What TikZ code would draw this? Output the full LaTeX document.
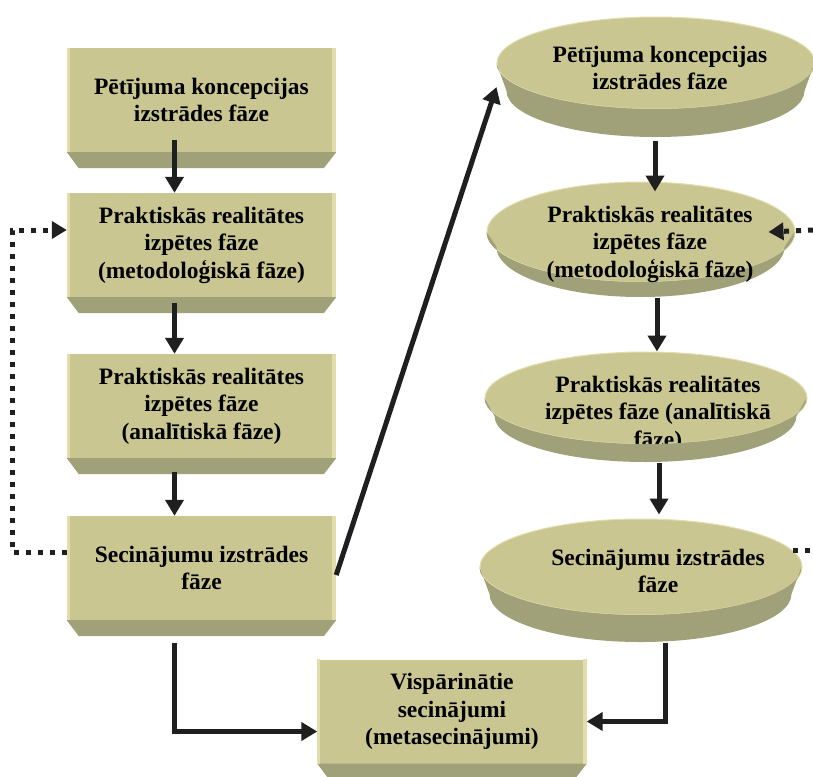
\documentclass[tikz,border=0pt]{standalone}
\usepackage{fontspec}
\setmainfont{Liberation Serif}
\usepackage{tikz}
\usetikzlibrary{arrows.meta,shapes.geometric}

\definecolor{khaki}{RGB}{201,198,146}
\definecolor{khakidark}{RGB}{160,160,121}
\definecolor{khakirim}{RGB}{226,222,172}
\newcommand{\phasefont}{\bfseries\fontsize{23.5}{27.5}\selectfont}

\begin{document}
\begin{tikzpicture}[x=1pt,y=-1pt,
        boxface/.style={fill=khaki,rectangle,minimum width=269pt,minimum height=104pt,
            inner sep=0pt,align=center,font=\phasefont},
        discface/.style={fill=khaki,draw=khakirim,line width=1pt,ellipse,minimum height=92pt,inner sep=0pt},
        disctext/.style={align=center,font=\phasefont},
        bevel/.style={fill=khakidark},
        flow/.style={line width=5pt,draw=black!88,-{Triangle[length=16pt,width=18pt]}},
        dotline/.style={line width=5pt,draw=black!88,dash pattern=on 5pt off 7pt},
        feedback/.style={dotline,-{Triangle[length=15pt,width=17pt]}}
    ]
    \useasboundingbox (0,0) rectangle (813,776);
    %
    % left column
    \node[boxface] (b1) at (201.5,100) {Pētījuma koncepcijas\\izstrādes fāze};
    \fill[bevel] (b1.south west) -- ++(12,16) -- ++(245,0) -- (b1.south east) -- cycle;
    \fill[khakirim] (b1.north west) rectangle ([xshift=3pt]b1.south west);
    \fill[khakirim] ([xshift=-4pt]b1.north east) rectangle (b1.south east);
    %
    \node[boxface] (b2) at (201.5,245) {Praktiskās realitātes\\izpētes fāze\\(metodoloģiskā fāze)};
    \fill[bevel] (b2.south west) -- ++(12,16) -- ++(245,0) -- (b2.south east) -- cycle;
    \fill[khakirim] (b2.north west) rectangle ([xshift=3pt]b2.south west);
    \fill[khakirim] ([xshift=-4pt]b2.north east) rectangle (b2.south east);
    %
    \node[boxface] (b3) at (201.5,406) {Praktiskās realitātes\\izpētes fāze\\(analītiskā fāze)};
    \fill[bevel] (b3.south west) -- ++(12,16) -- ++(245,0) -- (b3.south east) -- cycle;
    \fill[khakirim] (b3.north west) rectangle ([xshift=3pt]b3.south west);
    \fill[khakirim] ([xshift=-4pt]b3.north east) rectangle (b3.south east);
    %
    \node[boxface] (b4) at (201.5,568) {Secinājumu izstrādes\\fāze};
    \fill[bevel] (b4.south west) -- ++(12,16) -- ++(245,0) -- (b4.south east) -- cycle;
    \fill[khakirim] (b4.north west) rectangle ([xshift=3pt]b4.south west);
    \fill[khakirim] ([xshift=-4pt]b4.north east) rectangle (b4.south east);
    %
    \node[boxface] (b5) at (452,711.5) {Vispārinātie\\secinājumi\\(metasecinājumi)};
    \fill[bevel] (b5.south west) -- ++(12,16) -- ++(245,0) -- (b5.south east) -- cycle;
    \fill[khakirim] (b5.north west) rectangle ([xshift=3pt]b5.south west);
    \fill[khakirim] ([xshift=-4pt]b5.north east) rectangle (b5.south east);
    %
    % right column (discs)
    \node[discface,minimum width=318pt] (d1) at (656,63) {};
    \fill[bevel] (d1.west) arc[start angle=180,end angle=0,x radius=159,y radius=46]
        -- ++(-10,28) arc[start angle=0,end angle=180,x radius=149,y radius=46] -- cycle;
    \node[disctext] (t1) at (660,68) {Pētījuma koncepcijas\\izstrādes fāze};
    %
    \node[discface,minimum width=308pt,minimum height=100pt] (d2) at (641,232) {};
    \fill[bevel] (d2.west) arc[start angle=180,end angle=0,x radius=154,y radius=50]
        -- ++(-10,15) arc[start angle=0,end angle=180,x radius=144,y radius=50] -- cycle;
    \node[disctext] (t2) at (650,244) {Praktiskās realitātes\\izpētes fāze\\(metodoloģiskā fāze)};
    %
    \node[discface,minimum width=322pt] (d3) at (646,398) {};
    \node[disctext] (t3) at (658,414) {Praktiskās realitātes\\izpētes fāze (analītiskā\\fāze)};
    \fill[bevel] (d3.west) arc[start angle=180,end angle=0,x radius=161,y radius=46]
        -- ++(-10,18) arc[start angle=0,end angle=180,x radius=151,y radius=46] -- cycle;
    %
    \node[discface,minimum width=322pt,minimum height=96pt] (d4) at (641,567) {};
    \fill[bevel] (d4.west) arc[start angle=180,end angle=0,x radius=161,y radius=48]
        -- ++(-10,27) arc[start angle=0,end angle=180,x radius=151,y radius=48] -- cycle;
    \node[disctext] (t4) at (658,571) {Secinājumu izstrādes\\fāze};
    %
    % connectors
    \draw[flow] ([xshift=-27pt,yshift=12pt]b1.south) -- ([xshift=-27pt]b2.north);
    \draw[flow] ([xshift=-27pt,yshift=-6pt]b2.south) -- ([xshift=-27pt]b3.north);
    \draw[flow] ([xshift=-27pt,yshift=-14pt]b3.south) -- ([xshift=-27pt]b4.north);
    \draw[flow] ([xshift=-27pt,yshift=-23pt]b4.south) |- ([yshift=-20pt]b5.west);
    \draw[flow] ([yshift=-7pt]b4.east) -- ([yshift=-24pt]d1.west);
    \draw[flow] ([xshift=-1pt,yshift=-31pt]d1.south) -- ([xshift=14pt,yshift=-10pt]d2.north);
    \draw[flow] ([xshift=16pt,yshift=-15pt]d2.south) -- ([xshift=11pt]d3.north);
    \draw[flow] ([xshift=13pt,yshift=-18pt]d3.south) -- ([xshift=18pt,yshift=4pt]d4.north);
    \draw[flow] ([xshift=24pt,yshift=-27pt]d4.south) |- ([yshift=-10pt]b5.east);
    %
    \coordinate (loopcorner) at (12,230);
    \coordinate (rightedge) at (813,230);
    \draw[feedback] ([yshift=16pt]b4.west) -| (loopcorner) -- ([yshift=15pt]b2.west);
    \draw[feedback] (rightedge) -- ([xshift=-27pt]d2.east);
    \draw[dotline] (d4.6) -- (d4.6 -| rightedge);
    %
\end{tikzpicture}
\end{document}
